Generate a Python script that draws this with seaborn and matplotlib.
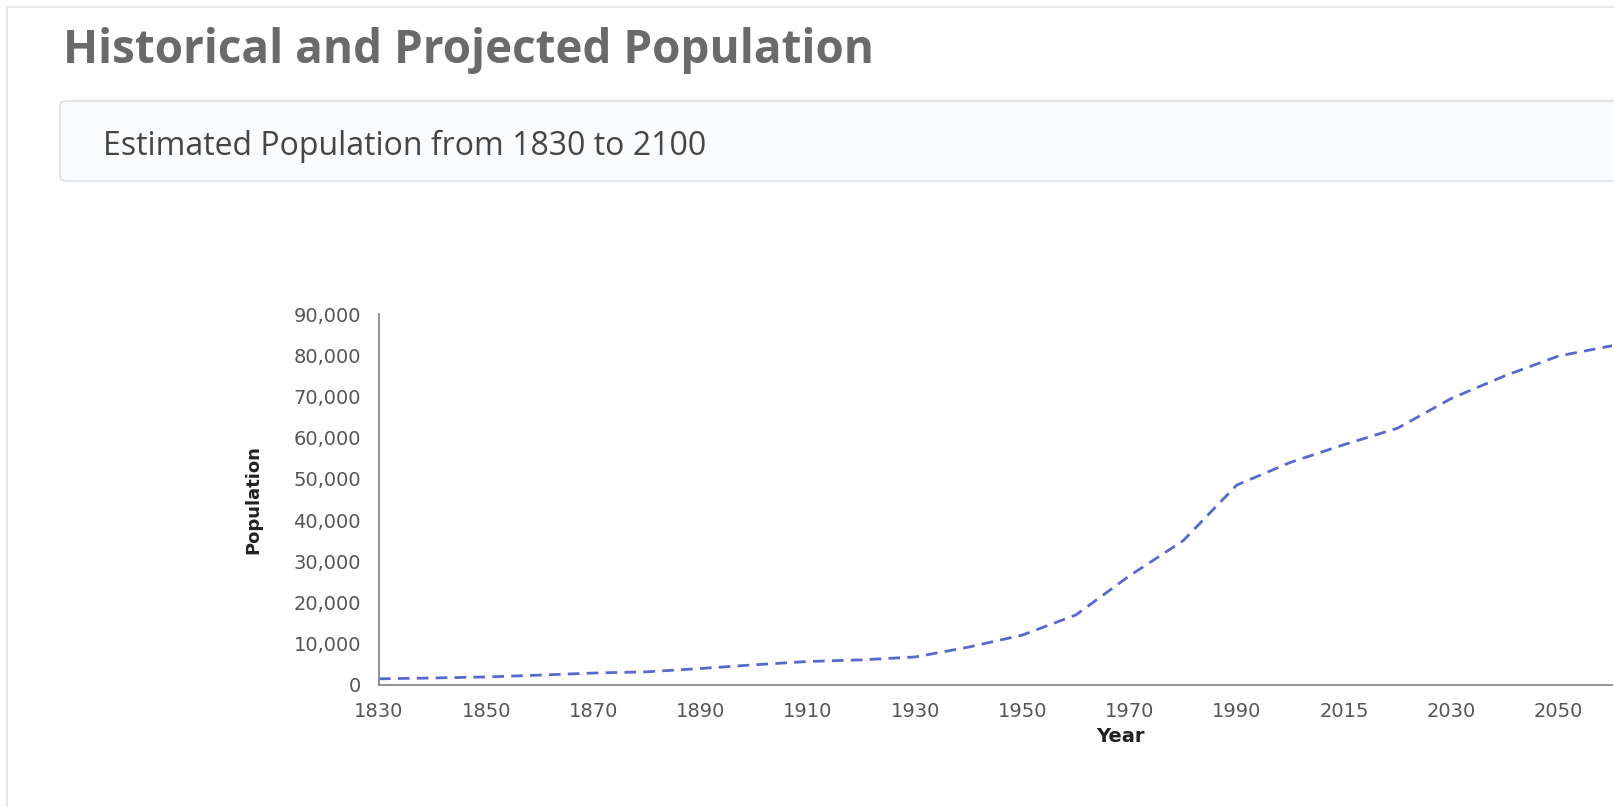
import numpy as np
import pandas as pd
import seaborn as sns
import matplotlib.pyplot as plt
from matplotlib.patches import Rectangle, FancyBboxPatch
from matplotlib.ticker import StrMethodFormatter

# data (right part of the chart is cut off in the screenshot)
years = [1830, 1840, 1850, 1860, 1870, 1880, 1890, 1900, 1910, 1920, 1930, 1940,
         1950, 1960, 1970, 1980, 1990, 2000, 2015, 2020, 2030, 2040, 2050, 2060]
population = [1500, 1700, 1950, 2400, 2900, 3200, 4000, 4900, 5700, 6100, 6800, 9200,
              12100, 17000, 26500, 35000, 48500, 54000, 58300, 62300, 69500, 75000, 79800, 82300]
y_ticks = [0, 10000, 20000, 30000, 40000, 50000, 60000, 70000, 80000, 90000]

df = pd.DataFrame({'Year': [str(y) for y in years], 'Population': population})

sns.set_theme(style='white')
plt.rcParams['font.family'] = ['DejaVu Sans']

W, H = 1615, 807
fig = plt.figure(figsize=(W / 100, H / 100), dpi=100)
fig.patch.set_facecolor('white')

# card border + subtitle box
fig.patches.append(Rectangle((7 / W, -0.2), 2, 1 - 7 / H + 0.2, transform=fig.transFigure,
                             fill=False, ec='#e2e2e2', lw=1.2))
fig.patches.append(FancyBboxPatch((60 / W, 1 - 181 / H), 2, 80 / H,
                                  boxstyle='round,pad=0,rounding_size=0.005',
                                  transform=fig.transFigure, fc='#fafbfc', ec='#dde1e8', lw=1.2))

fig.text(63 / W, 1 - 50 / H, 'Historical and Projected Population', family=['Open Sans', 'DejaVu Sans'],
         weight='bold', fontsize=33, color='#6a6a6a', ha='left', va='center')
fig.text(103 / W, 1 - 146 / H, 'Estimated Population from 1830 to 2100', family=['Open Sans', 'DejaVu Sans'],
         fontsize=23, color='#454545', ha='left', va='center')

left, right, top, bottom = 379, 1612, 314, 685
step = 54.9  # px between two year categories
ax = fig.add_axes([left / W, 1 - bottom / H, (right - left) / W, (bottom - top) / H])

sns.lineplot(data=df, x='Year', y='Population', ax=ax, color='#5769cf', lw=2,
             linestyle=(0, (4.2, 2.6)), sort=False)

ax.set_xlim(0, (right - left) / step)
ax.set_ylim(0, 90000)
ax.set_xticks(range(len(years)))
ax.set_xticklabels([str(y) if i % 2 == 0 else '' for i, y in enumerate(years)])
ax.set_yticks(y_ticks)
ax.yaxis.set_major_formatter(StrMethodFormatter('{x:,.0f}'))

sns.despine(ax=ax)
for s in ['left', 'bottom']:
    ax.spines[s].set_color('#8a8a8a')
    ax.spines[s].set_linewidth(1.3)
ax.tick_params(axis='both', length=8, width=1, color='#8a8a8a', labelcolor='#555555',
               labelsize=14, direction='out')
ax.tick_params(axis='x', pad=4)
ax.tick_params(axis='y', pad=5)
ax.grid(False)

ax.set_xlabel('Year', fontsize=14, weight='bold', color='#222222')
ax.set_ylabel('Population', fontsize=13, weight='bold', color='#222222')
ax.xaxis.set_label_coords((1120 - left) / (right - left), (bottom - 736) / (bottom - top))
ax.xaxis.label.set_va('center')
ax.yaxis.set_label_coords((253 - left) / (right - left), 0.5)
ax.yaxis.label.set_va('center')

fig.savefig('out.png', dpi=100)
